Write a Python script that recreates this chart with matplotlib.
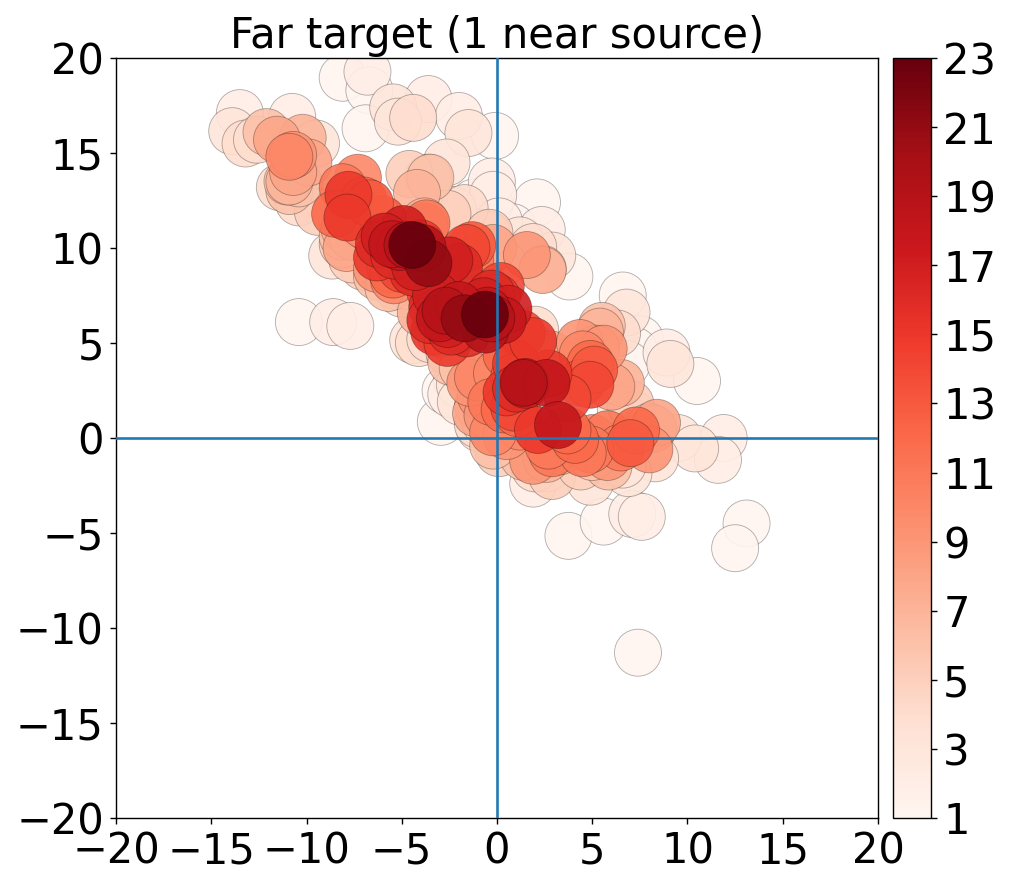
import numpy as np
import matplotlib
matplotlib.use('Agg')
import matplotlib.pyplot as plt

# points grouped by hit count
levels = [1, 2, 3, 4, 5, 6, 7, 8, 9, 10, 11, 12, 13, 14, 15, 16, 17, 18, 19, 21, 23]

x1 = [-8.1, -6.7, -6.9, -0.1, -10.4, 3.8, 10.5, 0.3, -2.95, -2.7, 3.75, 5.6, 13.1, 12.5, 7.4, 2.1, 0.8, 6.6, 7.5, -1.2, -0.4, 7.2, 6.8]
y1 = [18.96, 18.3, 16.3, 15.9, 6.1, 8.5, 3.0, -0.2, 0.85, 2.5, -5.15, -4.4, -4.5, -5.8, -11.3, 12.4, 11.1, 7.5, 5.2, 12.4, 12.3, 4.6, 3.9]
x2 = [-6.8, -13.5, -3.6, -2.0, -10.75, -8.6, -7.7, -0.27, 11.9, 11.6, 1.9, 7.1, 7.6, 2.35, -1.6, 8.9, -0.2, 0.1, -2.1, -2.4]
y2 = [19.28, 17.1, 17.84, 16.95, 16.9, 6.1, 5.9, 13.5, 0.0, -1.15, -2.4, -4.0, -4.15, 10.95, 11.6, 4.5, 12.8, 11.4, 3.0, 2.3]
x3 = [-5.45, -5.2, -1.5, -13.9, -2.65, -9.5, 9.1, 6.8, 9.5, 10.4, 8.3, 6.9, 4.9, 2.6, -0.9, 2.9, -1.95, -4.4, 0.0, 1.2, 6.5, 6.6, -1.9, -0.9, -8.65]
y3 = [17.4, 16.65, 16.05, 16.15, 14.5, 15.5, 3.9, 6.6, 0.0, -0.55, -1.07, -1.85, -2.3, -1.6, 10.8, 9.6, 2.8, 5.15, 0.0, 10.4, 1.5, -1.4, 1.9, 0.5, 9.6]
x4 = [-4.4, -13.2, -12.6, -11.4, -10.4, -2.3, -0.5, 1.9, -4.1, -2.5, 6.3, 2.0, 7.2, -1.0, -0.6, -1.7, 0.3, -3.5, -5.0, 2.0]
y4 = [16.85, 15.5, 15.7, 13.2, 12.4, 12.0, 10.7, 10.05, 5.0, 4.7, 5.5, 5.7, 1.2, 0.7, 0.8, 12.1, 9.2, 5.2, 7.6, -1.6]
x5 = [-3.6, -4.6, -2.6, -0.4, 1.7, 7.0, 8.0, -7.0, -7.6, -8.1, -5.3, 0.1, 2.9, 4.4, -9.4]
y5 = [13.7, 13.9, 11.8, 10.8, 4.9, 1.8, 0.6, 9.0, 9.4, 10.2, 8.0, -0.8, -2.0, -1.5, 11.9]
x6 = [-12.1, -10.9, -10.4, -3.5, -4.7, 2.4, -2.5, -2.4, 5.85, 5.0, -11.0, -8.1, 1.4, -6.3, 5.5, -1.8, -0.2, -5.7]
y6 = [16.1, 13.0, 13.4, 13.7, 8.0, 8.9, 4.5, 4.0, -1.5, -1.0, 13.5, 10.6, -1.0, 8.5, 5.9, 3.7, -0.4, 7.9]
x7 = [-10.2, -10.9, -4.2, 2.4, 5.4, 8.2, -8.0, -3.8, 1.8, 2.6, -7.6, 6.5, -1.0, -4.0]
y7 = [15.8, 13.5, 12.9, 8.84, 5.6, 0.5, 11.0, 11.4, 4.6, -1.1, 10.6, 2.9, 1.7, 6.6]
x8 = [-11.55, -9.9, -10.7, -0.2, 8.4, -1.1, 1.1, 2.8, -7.9, 3.3, 6.6, 5.2, 6.0, -3.0]
y8 = [15.7, 14.5, 14.0, 10.0, 0.8, 1.3, 4.0, 4.4, 10.0, -0.7, -0.3, 4.7, 2.7, 5.5]
x9 = [-10.7, 1.57, 4.35, -0.85, -0.5, 1.9, 8.0, 5.8, 5.6, -6.3, -1.4, 0.5, -6.7]
y9 = [14.9, 9.63, 5.0, 2.2, 1.2, -1.2, -0.6, -1.0, 4.7, 8.9, 2.9, 0.1, 11.0]
x10 = [-10.9, -7.3, -3.8, -1.0, 1.2, 5.0, -7.0, -0.2, -5.4, 0.0, 4.5]
y10 = [14.8, 13.7, 11.1, 3.2, 0.6, 0.0, 11.2, 0.3, 8.3, 3.4, 4.4]
x11 = [-8.1, -3.7, -0.7, 2.9, 5.8, 6.5, 4.9, 4.5, -1.4, -5.6, -0.3, 2.7]
y11 = [13.2, 11.3, 8.0, -0.8, 0.2, -0.5, -0.6, -0.8, 9.3, 8.9, 1.9, -0.4]
x12 = [-7.0, -8.5, -5.45, 4.9, 7.3, 4.1, 3.7, -1.7, -4.9, 0.5, 0.4, 1.1]
y12 = [12.5, 11.8, 8.6, 3.9, 0.4, -0.1, 0.4, 8.0, 9.2, 4.4, 1.5, 1.3]
x13 = [-1.3, -6.0, -6.67, 7.0, 0.9, 4.4, -4.2, -5.8, 5.1]
y13 = [10.15, 11.5, 12.35, -0.27, 3.2, 2.9, 9.6, 10.4, 3.6]
x14 = [-1.6, 4.9, 3.7, 0.2, 1.3, 0.9, -5.0, -3.5, -3.0]
y14 = [10.0, 2.8, 2.1, 8.0, 5.5, 1.6, 8.9, 7.7, 8.0]
x15 = [-7.8, -7.85, -4.0, -6.3, 2.15, 0.5, 2.7, 0.0, -3.3, -2.6, 1.0, 1.9]
y15 = [12.8, 11.6, 10.25, 9.5, 0.42, 2.4, 3.4, 7.4, 5.6, 5.0, 3.9, 5.1]
x16 = [-6.2, -2.0, -3.4, -3.5, -1.6, -0.3, 1.0, -4.4, -5.4, -2.4]
y16 = [10.2, 9.0, 6.9, 6.2, 5.5, 7.6, 2.6, 8.7, 9.6, 5.6]
x17 = [-4.9, -2.5, -2.6, -0.7, 1.5, 0.6, -3.2, -5.9, -4.3]
y17 = [11.0, 9.35, 6.0, 7.2, 2.8, 6.8, 7.5, 10.6, 9.0]
x18 = [-5.1, -5.5, 0.3, 1.47, 2.6, 3.2, -0.5, -3.0, -2.0]
y18 = [10.05, 10.2, 6.2, 2.95, 2.9, 0.68, 6.7, 6.3, 7.0]
x19 = [-4.7, -2.7, -0.6, 1.4, -3.9, -0.3]
y19 = [10.15, 6.7, 5.7, 2.9, 10.0, 6.3]
x21 = [-3.6, -1.7]
y21 = [9.2, 6.3]
x23 = [-4.45, -0.63]
y23 = [10.16, 6.5]

xs = [x1, x2, x3, x4, x5, x6, x7, x8, x9, x10, x11, x12, x13, x14, x15, x16, x17, x18, x19, x21, x23]
ys = [y1, y2, y3, y4, y5, y6, y7, y8, y9, y10, y11, y12, y13, y14, y15, y16, y17, y18, y19, y21, y23]

ticks = [-20, -15, -10, -5, 0, 5, 10, 15, 20]
cbar_ticks = list(range(1, 24, 2))

W, H = 1013, 888
DPI = 125
fig = plt.figure(figsize=(W/DPI, H/DPI), dpi=DPI)
ax = fig.add_axes([116/W, 1-818/H, 762/W, 760/H])
cax = fig.add_axes([893/W, 1-818/H, 38/W, 760/H])

x = np.concatenate(xs)
y = np.concatenate(ys)
n = np.concatenate([[lv]*len(a) for lv, a in zip(levels, xs)])

norm = plt.Normalize(1, 23)
face = plt.cm.Reds(norm(n))
face[:, 3] = 0.9
ax.scatter(x, y, color=face, s=733, edgecolors=(0, 0, 0, 0.3), linewidths=0.5, zorder=2)
ax.axhline(0, color='C0', linewidth=1.5, zorder=3)
ax.axvline(0, color='C0', linewidth=1.5, zorder=3)
ax.set_xlim(-20, 20)
ax.set_ylim(-20, 20)
ax.set_xticks(ticks)
ax.set_yticks(ticks)
ax.tick_params(labelsize=24)
ax.set_title('Far target (1 near source)', fontsize=24, pad=6)

sm = plt.cm.ScalarMappable(norm=norm, cmap='Reds')
cb = fig.colorbar(sm, cax=cax, ticks=cbar_ticks)
cb.ax.tick_params(labelsize=24)

fig.savefig('out.png', dpi=DPI)
